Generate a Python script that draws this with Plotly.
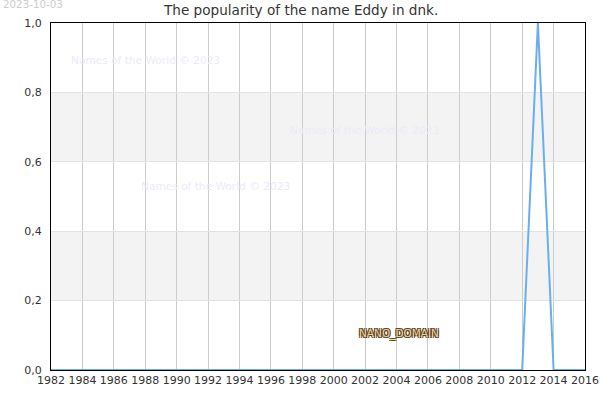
import plotly.graph_objects as go

years = [1982, 1983, 1984, 1985, 1986, 1987, 1988, 1989, 1990, 1991, 1992, 1993,
         1994, 1995, 1996, 1997, 1998, 1999, 2000, 2001, 2002, 2003, 2004, 2005,
         2006, 2007, 2008, 2009, 2010, 2011, 2012, 2013, 2014, 2015, 2016]
popularity = [0, 0, 0, 0, 0, 0, 0, 0, 0, 0, 0, 0,
              0, 0, 0, 0, 0, 0, 0, 0, 0, 0, 0, 0,
              0, 0, 0, 0, 0, 0, 0, 1, 0, 0, 0]
bands = [(0.2, 0.4), (0.6, 0.8)]
title_text = "The popularity of the name Eddy in dnk."
date_text = "2023-10-03"
watermark_text = "Names of the World © 2023"

L, R, T, B = 50.5, 585.5, 23, 370
W, H = R - L, B - T

def px(x):
    return (x - L) / W

def py(y):
    return (B - y) / H

fig = go.Figure()
fig.add_trace(go.Scatter(x=years, y=popularity, mode="lines",
                         line=dict(color="#6aaef0", width=2), hoverinfo="skip"))

shapes = []
for lo, hi in bands:
    shapes.append(dict(type="rect", xref="paper", yref="y", x0=0, x1=1, y0=lo, y1=hi,
                       fillcolor="#f3f3f3", line=dict(width=0), layer="below"))

font = "DejaVu Sans, Verdana, sans-serif"
annotations = [
    dict(text=date_text, xref="paper", yref="paper", x=px(0), y=py(4), xanchor="left",
         yanchor="middle", showarrow=False, font=dict(family=font, size=10.3, color="#cccccc")),
    dict(text=title_text, xref="paper", yref="paper", x=px(300), y=py(10), xanchor="center",
         yanchor="middle", showarrow=False, font=dict(family=font, size=13.6, color="#333333")),
]
for cx, cy in [(145, 60), (365, 130), (215, 186)]:
    annotations.append(dict(text=watermark_text, xref="paper", yref="paper", x=px(cx), y=py(cy),
                            xanchor="center", yanchor="middle", showarrow=False,
                            font=dict(family=font, size=10.6, color="#ebebf9")))
annotations.append(dict(text="NANO_DOMAIN", xref="paper", yref="paper", x=px(399), y=py(333),
                        xanchor="center", yanchor="middle", showarrow=False,
                        font=dict(family=font, size=10.5, color="#e6d3a5",
                                  shadow="1px 1px 0 #5e4118, -1px -1px 0 #5e4118, 1px -1px 0 #5e4118, -1px 1px 0 #5e4118")))

fig.update_layout(
    width=600, height=400,
    margin=dict(l=L, r=600 - R, t=T, b=400 - B, autoexpand=False),
    paper_bgcolor="white", plot_bgcolor="white",
    separators=", ",
    showlegend=False,
    xaxis=dict(range=[1982, 2016], dtick=2, tick0=1982, showgrid=True, gridcolor="#cccccc",
               gridwidth=1, zeroline=False, showline=True, linecolor="black", linewidth=1,
               mirror=True, ticks="", automargin=False,
               tickfont=dict(family=font, size=11, color="#333333"), fixedrange=True),
    yaxis=dict(range=[0, 1], dtick=0.2, tickformat=".1f", showgrid=True, gridcolor="#e3e3e3",
               gridwidth=1, zeroline=False, showline=True, linecolor="black", linewidth=1,
               mirror=True, ticks="", ticklabelstandoff=6, automargin=False,
               tickfont=dict(family=font, size=11, color="#333333"), fixedrange=True),
    shapes=shapes,
    annotations=annotations,
)

fig.write_html("out.html", config={"displayModeBar": False},
               post_script="document.body.style.margin='0';document.body.style.overflow='hidden';")
